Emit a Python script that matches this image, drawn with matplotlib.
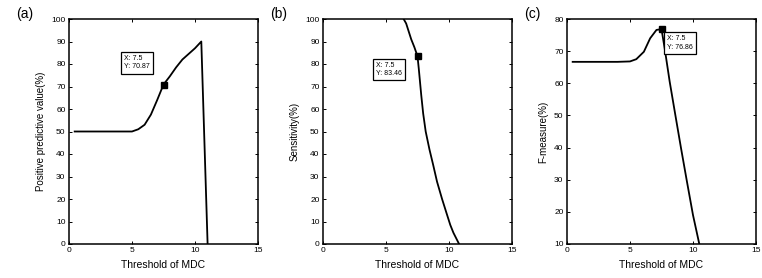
import matplotlib
matplotlib.use("Agg")
import matplotlib.pyplot as plt

plt.rcParams['font.family'] = ['Liberation Sans', 'DejaVu Sans']

# Panel (a): Positive predictive value
ppv_x = [0.45, 1.0, 2.0, 3.0, 4.0, 5.0, 5.5, 6.0, 6.5, 7.0, 7.5, 8.0, 8.5, 9.0, 9.5, 10.0, 10.5, 11.0]
ppv_y = [50.0, 50.0, 50.0, 50.0, 50.0, 50.0, 51.0, 53.0, 57.5, 64.0, 70.87, 74.5, 78.5, 82.0, 84.5, 87.0, 90.0, 0.0]

# Panel (b): Sensitivity
sen_x = [6.4, 6.6, 7.0, 7.25, 7.5, 7.6, 7.7, 7.8, 7.95, 8.15, 8.45, 8.75, 9.05, 9.45, 9.85, 10.1, 10.35, 10.8]
sen_y = [100.0, 98.0, 91.0, 87.5, 83.46, 78.0, 72.0, 66.0, 58.0, 50.0, 42.0, 35.0, 27.7, 20.0, 12.9, 8.5, 5.0, 0.0]

# Panel (c): F-measure
fm_x = [0.45, 1.0, 2.0, 3.0, 4.0, 5.0, 5.5, 6.1, 6.6, 7.1, 7.5, 7.75, 8.15, 8.6, 9.05, 9.52, 10.0, 10.5]
fm_y = [66.67, 66.67, 66.67, 66.67, 66.67, 66.8, 67.5, 69.8, 74.0, 76.6, 76.86, 70.9, 60.5, 50.1, 39.8, 29.4, 19.0, 10.0]

tips = [("7.5", "70.87"), ("7.5", "83.46"), ("7.5", "76.86")]
tip_pos = [(4.35, 84.0), (4.2, 81.0), (7.95, 75.0)]

ylabels = ["Positive predictive value(%)", "Sensitivity(%)", "F-measure(%)"]
panel_tags = ["(a)", "(b)", "(c)"]
xlabel = "Threshold of MDC"

W, H = 762, 278
fig = plt.figure(figsize=(W / 100, H / 100), dpi=100)

lefts = [69, 323, 567]
series = [(ppv_x, ppv_y), (sen_x, sen_y), (fm_x, fm_y)]
ylims = [(0, 100), (0, 100), (10, 80)]
tag_x = [25, 279, 532]

for i in range(3):
    ax = fig.add_axes([lefts[i] / W, (H - 244) / H, 189 / W, 225 / H])
    x, y = series[i]
    ax.plot(x, y, color='black', lw=1.3)
    ax.set_xlim(0, 15)
    ax.set_ylim(*ylims[i])
    ax.set_xticks([0, 5, 10, 15])
    ax.set_yticks(list(range(ylims[i][0], ylims[i][1] + 1, 10)))
    ax.tick_params(direction='in', top=True, right=True, length=2.5, width=0.7,
                   labelsize=6, pad=2.5)
    for s in ax.spines.values():
        s.set_linewidth(1.1)
    ax.set_xlabel(xlabel, fontsize=7.5, labelpad=4)
    ax.set_ylabel(ylabels[i], fontsize=7, labelpad=4)
    # data tip marker
    idx = x.index(7.5)
    ax.plot([x[idx]], [y[idx]], 's', color='black', ms=3.8)
    tx, ty = tip_pos[i]
    ax.text(tx, ty, "X: %s\nY: %s" % tips[i], fontsize=5, va='top', ha='left',
            linespacing=1.3,
            bbox=dict(boxstyle='square,pad=0.45', fc='white', ec='black', lw=0.9))
    fig.text(tag_x[i] / W, 1 - 14 / H, panel_tags[i], fontsize=10, ha='center', va='center')

fig.savefig("out.png", dpi=100)
